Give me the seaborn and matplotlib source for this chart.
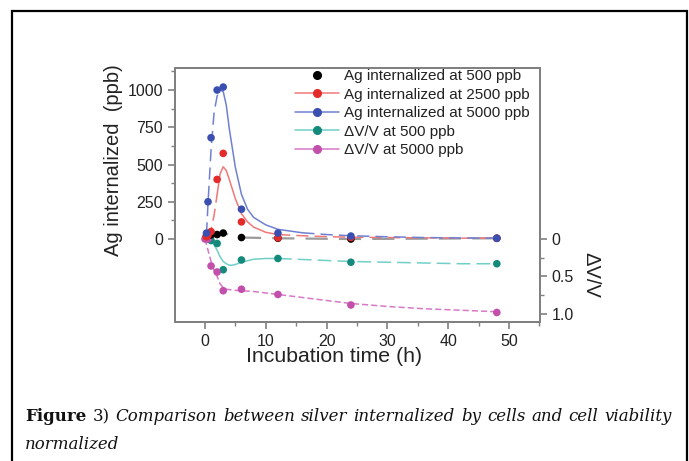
import matplotlib
matplotlib.use("Agg")
import matplotlib.pyplot as plt
import seaborn as sns
from matplotlib.lines import Line2D
from matplotlib.patches import Rectangle
from matplotlib.ticker import MultipleLocator, FixedLocator

t_ag = [0.25, 0.5, 1, 2, 3, 6, 12, 24, 48]
ag_500 = [20, 25, 28, 30, 40, 10, 5, 0, 5]
ag_2500 = [15, 25, 50, 400, 575, 115, 8, 10, 5]
ag_5000 = [40, 250, 680, 1000, 1020, 200, 40, 20, 5]

t_dv = [0.25, 0.5, 1, 2, 3, 6, 12, 24, 48]
dv_500 = [-0.05, 0.0, 0.02, 0.06, 0.41, 0.28, 0.26, 0.31, 0.33]
t_dv5 = [0, 0.5, 1, 2, 3, 6, 12, 24, 48]
dv_5000 = [0.0, 0.0, 0.36, 0.44, 0.69, 0.67, 0.74, 0.88, 0.98]

# Curvas de ajuste
fit_t_ag = [0.25, 0.5, 1, 1.5, 2, 2.5, 3, 3.5, 4, 5, 6, 7, 8, 10, 12, 16, 20, 24, 30, 36, 42, 48]
fit_2500 = [10, 20, 60, 160, 300, 440, 485, 460, 400, 270, 170, 115, 80, 45, 30, 22, 16, 12, 10, 8, 6, 5]
fit_5000 = [30, 240, 600, 850, 960, 1000, 990, 900, 740, 480, 300, 200, 145, 95, 65, 42, 30, 22, 15, 10, 7, 5]

fit_t_dv = [0, 0.5, 1, 1.5, 2, 2.5, 3, 3.5, 4, 4.5, 5, 6, 8, 10, 12, 18, 24, 30, 36, 42, 48]
fit_dv500 = [0, 0.01, 0.03, 0.08, 0.15, 0.24, 0.3, 0.33, 0.35, 0.35, 0.34, 0.31, 0.27, 0.26, 0.26, 0.28, 0.3, 0.31, 0.32, 0.33, 0.33]
fit_dv5000 = [0, 0.15, 0.3, 0.42, 0.5, 0.6, 0.65, 0.67, 0.675, 0.68, 0.685, 0.69, 0.7, 0.72, 0.74, 0.8, 0.86, 0.9, 0.93, 0.95, 0.97]

labels = ["Ag internalized at 500 ppb", "Ag internalized at 2500 ppb",
          "Ag internalized at 5000 ppb", "\u0394V/V at 500 ppb", "\u0394V/V at 5000 ppb"]

c_black, c_red, c_blue, c_teal, c_mag = "#000000", "#e42a2a", "#3a4fb0", "#138a7c", "#c250ab"
l_red, l_blue, l_teal, l_mag = "#f07878", "#7080d0", "#70d0c8", "#d878c8"

sns.set_style("ticks")
plt.rcParams["font.family"] = ["Liberation Sans", "DejaVu Sans"]

fig = plt.figure(figsize=(6.89, 4.61), dpi=100)
ax = fig.add_axes([175 / 689, 1 - 322 / 461, 365 / 689, 254 / 461])
ax2 = ax.twinx()


def curva(axis, xs, ys, color, corte_a, corte_b, ls_fuera):
    # tramo continuo entre los cortes, discontinuo fuera
    dentro = [(x, y) for x, y in zip(xs, ys) if corte_a <= x <= corte_b]
    antes = [(x, y) for x, y in zip(xs, ys) if x <= corte_a]
    despues = [(x, y) for x, y in zip(xs, ys) if x >= corte_b]
    for seg, ls in ((antes, ls_fuera), (dentro, "-"), (despues, ls_fuera)):
        if len(seg) > 1:
            sns.lineplot(x=[p[0] for p in seg], y=[p[1] for p in seg], ax=axis,
                         color=color, lw=1.1, linestyle=ls, sort=False, estimator=None)


# eje derecho: viabilidad
curva(ax2, fit_t_dv, fit_dv500, l_teal, 0, 12, (0, (9, 4)))
curva(ax2, fit_t_dv, fit_dv5000, l_mag, 99, 99, (0, (4, 2)))
sns.scatterplot(x=t_dv, y=dv_500, ax=ax2, color=c_teal, s=30, edgecolor="none", zorder=3)
sns.scatterplot(x=t_dv5, y=dv_5000, ax=ax2, color=c_mag, s=30, edgecolor="none", zorder=3)

# eje izquierdo: plata internalizada
sns.lineplot(x=t_ag, y=ag_500, ax=ax, color="#9a9a9a", lw=1.6, linestyle=(0, (10, 5)), sort=False, estimator=None)
curva(ax, fit_t_ag, fit_2500, l_red, 2, 12, (0, (8, 4)))
curva(ax, fit_t_ag, fit_5000, l_blue, 2.5, 16, (0, (8, 4)))
sns.scatterplot(x=t_ag, y=ag_500, ax=ax, color=c_black, s=30, edgecolor="none", zorder=3)
sns.scatterplot(x=t_ag, y=ag_2500, ax=ax, color=c_red, s=30, edgecolor="none", zorder=3)
sns.scatterplot(x=t_ag, y=ag_5000, ax=ax, color=c_blue, s=30, edgecolor="none", zorder=3)

ax.set_xlim(-4.93, 55.1)
ax.set_ylim(-557, 1148)
ax2.set_ylim(1.107, -2.28)
ax.set_zorder(ax2.get_zorder() + 1)
ax.patch.set_visible(False)

ax.set_xticks([0, 10, 20, 30, 40, 50])
ax.xaxis.set_minor_locator(MultipleLocator(5))
ax.set_yticks([0, 250, 500, 750, 1000])
ax.yaxis.set_minor_locator(FixedLocator([125, 375, 625, 875, 1125]))
ax2.set_yticks([0, 0.5, 1.0])
ax2.set_yticklabels(["0", "0.5", "1.0"])
ax2.yaxis.set_minor_locator(FixedLocator([0.25, 0.75]))

for a in (ax, ax2):
    for sp in a.spines.values():
        sp.set_visible(True)
        sp.set_color("#808080")
        sp.set_linewidth(1.3)
    a.tick_params(which="major", direction="out", length=5, width=1.2, color="#808080",
                  labelsize=11.5, labelcolor="#222222")
    a.tick_params(which="minor", direction="out", length=3, width=1.0, color="#808080")

ax.set_xlabel("Incubation time (h)", fontsize=15.3, color="#222222")
ax.xaxis.set_label_coords((334 - 175) / 365, -0.1)
ax.set_ylabel("Ag internalized  (ppb)", fontsize=14.5, color="#222222")
ax.yaxis.set_label_coords((123 - 175) / 365, (322 - 160) / 254)
ax2.set_ylabel("\u0394V/V", fontsize=14.5, color="#222222", rotation=270, va="center")
ax2.yaxis.set_label_coords((591 - 175) / 365, (322 - 275) / 254)

handles = [
    Line2D([], [], color=c_black, marker="o", linestyle="none", markersize=5.5),
    Line2D([], [], color=l_red, marker="o", markerfacecolor=c_red, markeredgecolor=c_red, markersize=5.5, lw=1.1),
    Line2D([], [], color=l_blue, marker="o", markerfacecolor=c_blue, markeredgecolor=c_blue, markersize=5.5, lw=1.1),
    Line2D([], [], color=l_teal, marker="o", markerfacecolor=c_teal, markeredgecolor=c_teal, markersize=5.5, lw=1.1),
    Line2D([], [], color=l_mag, marker="o", markerfacecolor=c_mag, markeredgecolor=c_mag, markersize=5.5, lw=1.1),
]
leg = ax.legend(handles, labels, loc="upper left", bbox_to_anchor=(295 / 689, 1 - 69 / 461),
                bbox_transform=fig.transFigure, frameon=False, fontsize=11,
                handlelength=2.9, handletextpad=0.3, labelspacing=0.3, borderpad=0, borderaxespad=0)
for txt in leg.get_texts():
    txt.set_color("#222222")

# marco exterior
fig.patches.append(Rectangle((12 / 689, -0.05), 675 / 689, 1.05 - 11 / 461, transform=fig.transFigure,
                             fill=False, edgecolor="black", lw=1.6))

# pie de figura justificado
fig.canvas.draw()
rend = fig.canvas.get_renderer()
serif = ["DejaVu Serif"]
fuente = 12
tokens = [("Figure", "bold", "normal"), ("3)", "normal", "normal")]
for w in "Comparison between silver internalized by cells and cell viability".split():
    tokens.append((w, "normal", "italic"))
objs = []
for w, peso, estilo in tokens:
    tt = fig.text(0, 1 - 421 / 461, w, fontsize=fuente, family=serif, fontweight=peso,
                  fontstyle=estilo, va="baseline", ha="left", color="#111111")
    objs.append(tt)
anchos = [o.get_window_extent(rend).width for o in objs]
x0, x1 = 25, 672
hueco = (x1 - x0 - sum(anchos)) / (len(objs) - 1)
x = x0
for o, wd in zip(objs, anchos):
    o.set_x(x / 689)
    x += wd + hueco
fig.text(25 / 689, 1 - 449 / 461, "normalized", fontsize=fuente, family=serif, fontstyle="italic",
         va="baseline", ha="left", color="#111111")

fig.savefig("out.png", dpi=100)
